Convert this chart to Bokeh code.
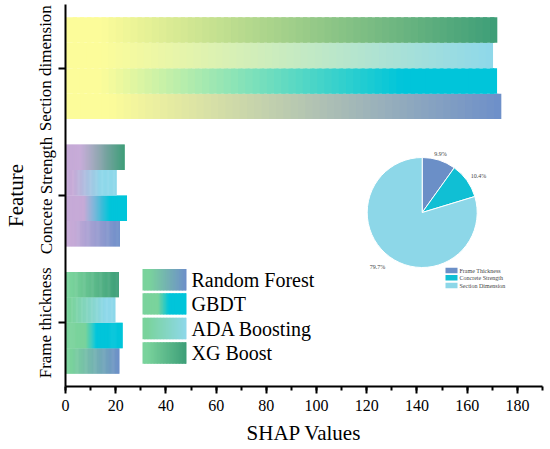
import numpy as np
from bokeh.plotting import figure
from bokeh.models import Range1d, FixedTicker, SingleIntervalTicker
from bokeh.core.properties import value
from bokeh.embed import file_html
from bokeh.resources import INLINE

# ---------------- data ----------------
features = ["Frame thickness", "Concete Strength", "Section dimension"]
models = ["Random Forest", "GBDT", "ADA Boosting", "XG Boost"]
rf = [21.5, 21.7, 173.6]
gbdt = [22.8, 24.5, 171.9]
ada = [19.9, 20.4, 170.3]
xgb = [21.3, 23.6, 172.0]

pie_labels = ["Frame Thickness", "Concrete Strength", "Section Dimension"]
pie_values = [9.9, 10.4, 79.7]

# ---------------- styles ----------------
FONT = "Liberation Serif"
end_colors = {"Random Forest": "#6d8fc9", "GBDT": "#00c5da",
              "ADA Boosting": "#8ed8ea", "XG Boost": "#3d9e78"}
start_colors = ["#7ad39c", "#c6aad7", "#fcfc9a"]   # per feature group
grad_a = {"Random Forest": [0.1, 0.15, 0.1], "GBDT": [0.35, 0.3, 0.08],
          "ADA Boosting": [0.1, 0.15, 0.08], "XG Boost": [0.1, 0.25, 0.08]}
grad_b = {"Random Forest": [1.0, 1.0, 1.0], "GBDT": [0.53, 0.72, 0.78],
          "ADA Boosting": [0.8, 0.7, 1.0], "XG Boost": [1.0, 1.0, 1.0]}
leg_a = {"Random Forest": 0.15, "GBDT": 0.35, "ADA Boosting": 0.1, "XG Boost": 0.1}
leg_b = {"Random Forest": 1.0, "GBDT": 0.6, "ADA Boosting": 1.0, "XG Boost": 1.0}
pie_colors = ["#6b8fc7", "#10bfd4", "#8dd7e8"]

def hex2rgb(h):
    h = h.lstrip("#")
    return np.array([int(h[i:i + 2], 16) for i in (0, 2, 4)], dtype=float)

def mix(c0, c1, t, a, b):
    s = np.clip((t - a) / (b - a), 0, 1)
    c = hex2rgb(c0) * (1 - s) + hex2rgb(c1) * s
    return "#%02x%02x%02x" % tuple(int(round(v)) for v in c)

p = figure(width=550, height=449, x_range=Range1d(0, 190), y_range=Range1d(0, 3),
           output_backend="svg", toolbar_location=None,
           min_border_left=65, min_border_right=8, min_border_top=4, min_border_bottom=63)
# overlay coordinate system expressed as positions relative to the plot frame
p.extra_x_ranges = {"px": Range1d(65, 542)}
p.extra_y_ranges = {"px": Range1d(-386, -4)}

def fy(ry):
    return -ry

# ---------------- bars with gradients (overlapping slices, left to right) ----------------
N = 60
L, R, B, T, C = [], [], [], [], []
series = {"Random Forest": rf, "GBDT": gbdt, "ADA Boosting": ada, "XG Boost": xgb}
offsets = {"Random Forest": -0.3, "GBDT": -0.1, "ADA Boosting": 0.1, "XG Boost": 0.3}
for gi in range(len(features)):
    center = gi + 0.5
    for m in models:
        v = series[m][gi]
        yc = center + offsets[m]
        for i in range(N):
            t = (i + 0.5) / N
            L.append(v * i / N)
            R.append(v * min(i + 1.6, N) / N)
            B.append(yc - 0.1)
            T.append(yc + 0.1)
            C.append(mix(start_colors[gi], end_colors[m], t, grad_a[m][gi], grad_b[m][gi]))
p.quad(left=L, right=R, bottom=B, top=T, fill_color=C, line_color=None)

# ---------------- legend (gradient swatches) ----------------
NL = 30
lx0, lx1 = 142, 186
leg_rows = [279.2, 303.4, 328.0, 352.5]
LL, LR, LB, LT, LC = [], [], [], [], []
for m, ry in zip(models, leg_rows):
    for i in range(NL):
        t = (i + 0.5) / NL
        LL.append(lx0 + (lx1 - lx0) * i / NL)
        LR.append(lx0 + (lx1 - lx0) * min(i + 1.6, NL) / NL)
        LB.append(fy(ry) - 10.7)
        LT.append(fy(ry) + 10.7)
        LC.append(mix("#7ad39c", end_colors[m], t, leg_a[m], leg_b[m]))
p.quad(left=LL, right=LR, bottom=LB, top=LT, fill_color=LC, line_color=None,
       x_range_name="px", y_range_name="px")
p.text(x=[191] * 4, y=[fy(r) for r in leg_rows], text=models,
       text_font=value(FONT), text_font_size="20px", text_baseline="middle",
       text_color="black", x_range_name="px", y_range_name="px")

# ---------------- pie inset ----------------
cx, cy = 421.7, fy(212)
fr = np.array(pie_values) / sum(pie_values)
ang = np.pi / 2 - 2 * np.pi * np.concatenate([[0], np.cumsum(fr)])
p.wedge(x=[cx] * 3, y=[cy] * 3, radius=55, radius_units="screen",
        start_angle=list(ang[:-1]), end_angle=list(ang[1:]), direction="clock",
        fill_color=pie_colors, line_color="white", line_width=1,
        x_range_name="px", y_range_name="px")
pct = ["%.1f%%" % v for v in pie_values]
p.text(x=[440, 478, 377], y=[fy(153), fy(175), fy(266)], text=pct,
       text_font=value(FONT), text_font_size="6px", text_align="center",
       text_baseline="middle", text_color="#444444",
       x_range_name="px", y_range_name="px")
py_rows = [270.0, 277.3, 285.0]
p.quad(left=[445] * 3, right=[457] * 3,
       bottom=[fy(r) - 2.8 for r in py_rows], top=[fy(r) + 2.8 for r in py_rows],
       fill_color=pie_colors, line_color=None, x_range_name="px", y_range_name="px")
p.text(x=[459] * 3, y=[fy(r) for r in py_rows], text=pie_labels,
       text_font=value(FONT), text_font_size="6px", text_baseline="middle",
       text_color="#444444", x_range_name="px", y_range_name="px")

# ---------------- axes ----------------
p.grid.visible = False
p.outline_line_color = None
p.xaxis.ticker = SingleIntervalTicker(interval=20, num_minor_ticks=2)
p.yaxis.ticker = FixedTicker(ticks=[0.5, 1.5, 2.5], minor_ticks=[])
p.yaxis.major_label_overrides = {0.5: features[0], 1.5: features[1], 2.5: features[2]}
p.yaxis.major_label_orientation = "vertical"
p.xaxis.axis_label = "SHAP Values"
p.yaxis.axis_label = "Feature"
for ax in (p.xaxis, p.yaxis):
    ax.axis_line_width = 2
    ax.axis_line_color = "black"
    ax.major_tick_line_width = 2
    ax.minor_tick_line_width = 2
    ax.major_tick_line_color = "black"
    ax.minor_tick_line_color = "black"
    ax.major_tick_in = 0
    ax.major_tick_out = 7
    ax.minor_tick_in = 0
    ax.minor_tick_out = 4
    ax.major_label_text_font = FONT
    ax.major_label_text_color = "black"
    ax.axis_label_text_font = FONT
    ax.axis_label_text_font_style = "normal"
    ax.axis_label_text_color = "black"
    ax.axis_label_text_font_size = "21px"
p.xaxis.major_label_text_font_size = "16px"
p.yaxis.major_label_text_font_size = "17px"
p.xaxis.major_label_standoff = 6
p.yaxis.major_label_standoff = 3
p.xaxis.axis_label_standoff = 7
p.yaxis.axis_label_standoff = 6

open("out.html", "w").write(file_html(p, INLINE))
